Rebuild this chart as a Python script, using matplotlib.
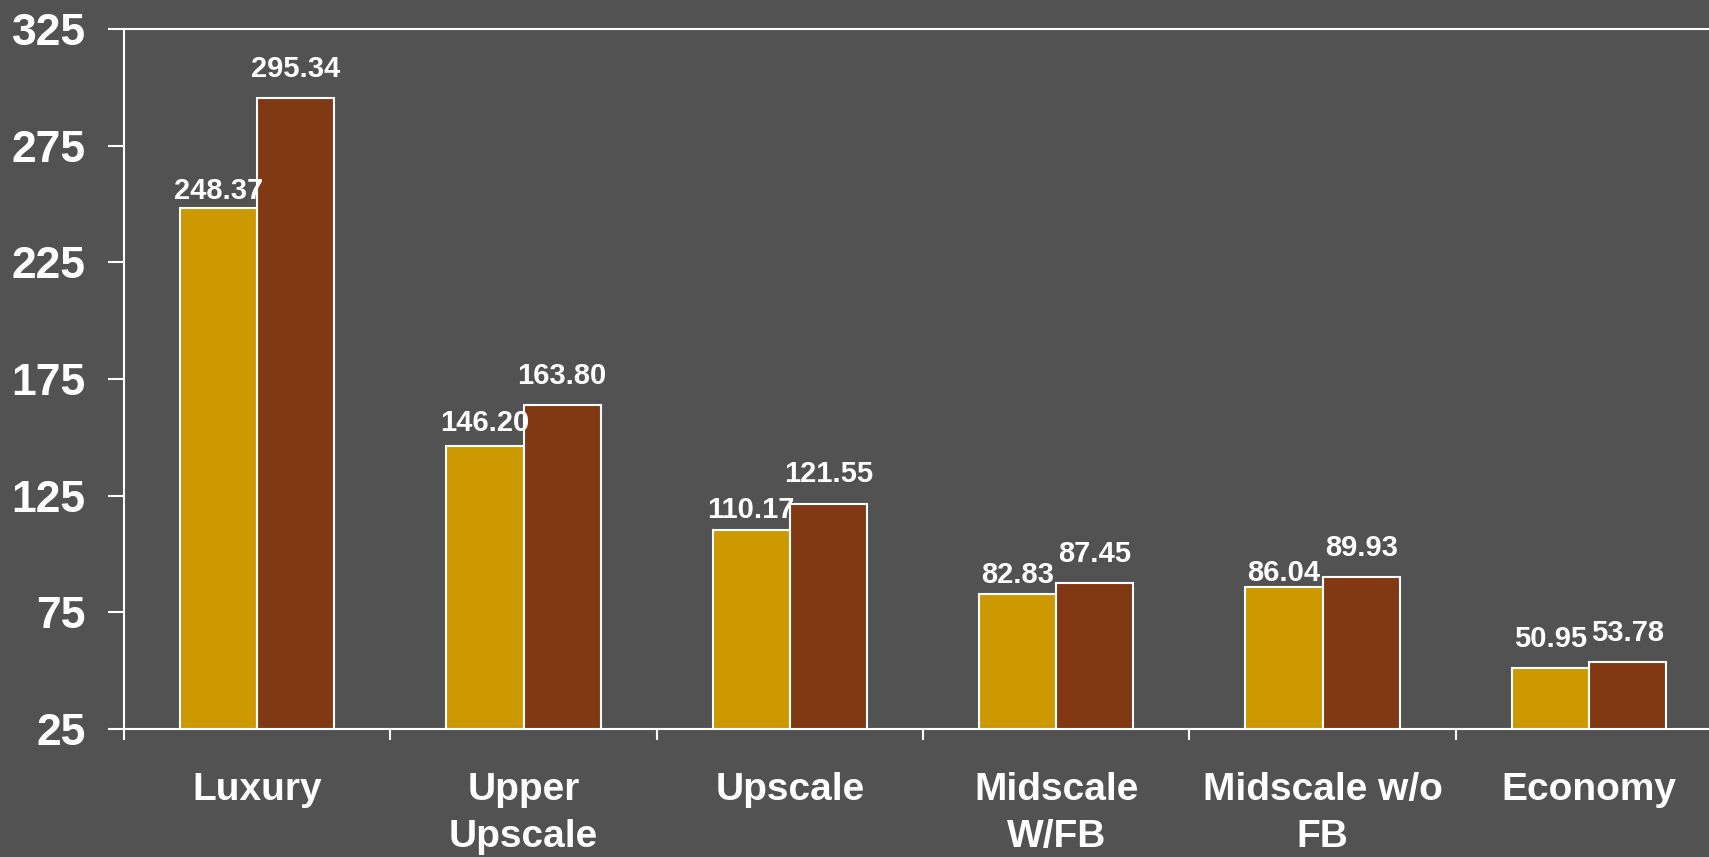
import matplotlib
matplotlib.use('Agg')
import matplotlib.pyplot as plt
import numpy as np

categories = ['Luxury', 'Upper\nUpscale', 'Upscale', 'Midscale\nW/FB', 'Midscale w/o\nFB', 'Economy']
gold_values = [248.37, 146.20, 110.17, 82.83, 86.04, 50.95]
brown_values = [295.34, 163.80, 121.55, 87.45, 89.93, 53.78]
y_ticks = [25, 75, 125, 175, 225, 275, 325]

# label gap above each bar, in points (the gold labels sit lower in the original)
gold_label_pad = [2, 6.5, 4.5, 3.5, -0.5, 11]
brown_label_pad = [11, 11, 11, 11, 11, 11]

BG = '#525252'
GOLD = '#CC9900'
BROWN = '#813914'

plt.rcParams['font.family'] = ['Liberation Sans', 'DejaVu Sans']
plt.rcParams['font.weight'] = 'bold'


def label_bars(ax, bars, values, pads):
    for bar, v, p in zip(bars, values, pads):
        ax.annotate(f'{v:.2f}', (bar.get_x() + bar.get_width() / 2, v),
                    xytext=(0, p), textcoords='offset points',
                    ha='center', va='bottom', color='white',
                    fontsize=21, fontweight='bold', zorder=3)


def main():
    fig = plt.figure(figsize=(17.09, 8.57), dpi=100)
    fig.patch.set_facecolor(BG)
    ax = fig.add_axes([124 / 1709, 1 - 729 / 857, 1598 / 1709, 700 / 857])
    ax.set_facecolor(BG)

    x = np.arange(len(categories))
    w = 0.29
    b1 = ax.bar(x - w / 2, gold_values, w, color=GOLD, edgecolor='white', linewidth=1.5, zorder=2)
    b2 = ax.bar(x + w / 2, brown_values, w, color=BROWN, edgecolor='white', linewidth=1.5, zorder=2)
    label_bars(ax, b1, gold_values, gold_label_pad)
    label_bars(ax, b2, brown_values, brown_label_pad)

    ax.set_xlim(-0.5, len(categories) - 0.5)
    ax.set_ylim(25, 325)
    ax.set_yticks(y_ticks)
    ax.set_yticklabels([str(t) for t in y_ticks])

    # boundaries carry the tick marks, centers carry the labels
    ax.set_xticks(np.arange(len(categories) + 1) - 0.5)
    ax.set_xticklabels([])
    ax.set_xticks(x, minor=True)
    ax.set_xticklabels(categories, minor=True, linespacing=1.38)

    ax.tick_params(axis='y', colors='white', labelsize=32, length=11.5, width=1.5, pad=16)
    ax.tick_params(axis='x', which='major', colors='white', length=8, width=1.5)
    ax.tick_params(axis='x', which='minor', colors='white', labelsize=28, length=0, pad=31)

    for s in ['left', 'bottom', 'top', 'right']:
        ax.spines[s].set_color('white')
        ax.spines[s].set_linewidth(1.5)

    fig.savefig('out.png', dpi=100, facecolor=BG)


if __name__ == '__main__':
    main()
